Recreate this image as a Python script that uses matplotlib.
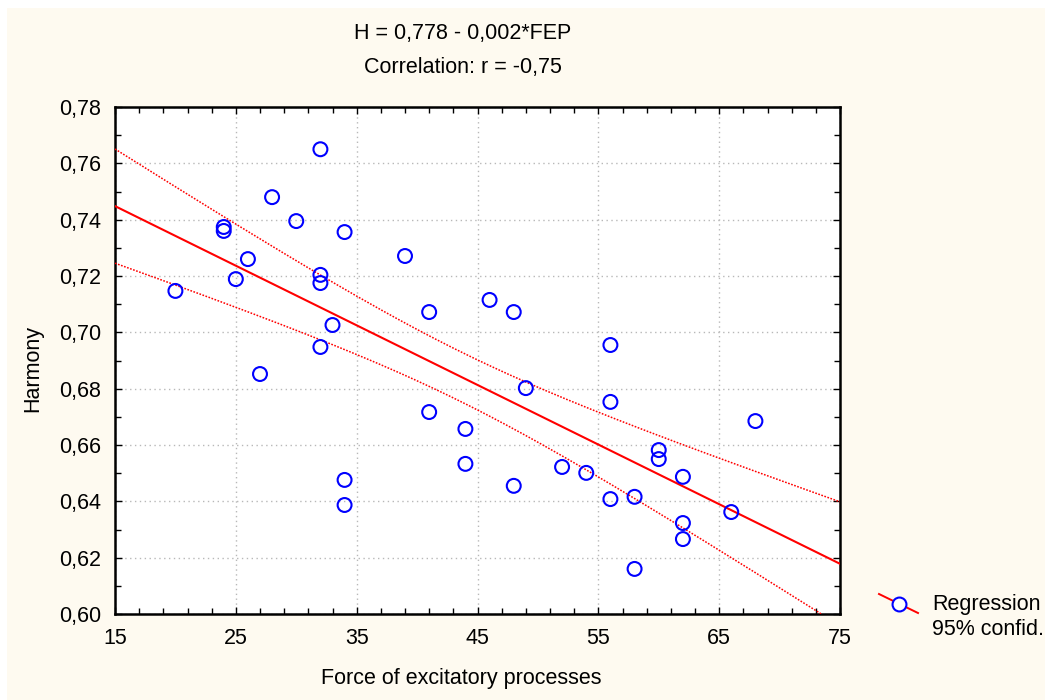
import numpy as np
import matplotlib.pyplot as plt
from matplotlib.patches import Rectangle
from matplotlib.lines import Line2D
from matplotlib.ticker import MultipleLocator, FuncFormatter

plt.rcParams['font.family'] = ['Liberation Sans', 'DejaVu Sans']

# Force of excitatory processes (FEP) vs Harmony (H)
fep = [32, 28, 30, 24, 24, 34, 39, 26, 32, 32, 25, 20, 46, 48, 41, 33, 32, 56, 27, 49,
       56, 41, 44, 68, 60, 60, 44, 52, 54, 62, 34, 48, 56, 58, 34, 66, 62, 62, 58]
harmony = [0.765, 0.748, 0.7395, 0.7374, 0.736, 0.7356, 0.7271, 0.726, 0.7204, 0.7175,
           0.7189, 0.7147, 0.7115, 0.7072, 0.7072, 0.7026, 0.6948, 0.6955, 0.6852, 0.6802,
           0.6753, 0.6717, 0.6657, 0.6685, 0.6582, 0.655, 0.6533, 0.6522, 0.6501, 0.6487,
           0.6476, 0.6455, 0.6408, 0.6416, 0.6387, 0.6362, 0.6323, 0.6266, 0.616]
equation = 'H = 0,778 - 0,002*FEP'
correlation = 'Correlation: r = -0,75'
legend_label = 'Regression\n95% confid.'

x = np.array(fep, dtype=float)
y = np.array(harmony)
n = len(x)
slope, intercept = np.polyfit(x, y, 1)

# 95% confidence band of the mean regression line
xs = np.linspace(15, 75, 200)
fit = intercept + slope * xs
resid = y - (intercept + slope * x)
s = np.sqrt(np.sum(resid ** 2) / (n - 2))
t_crit = 2.026
se = s * np.sqrt(1 / n + (xs - x.mean()) ** 2 / np.sum((x - x.mean()) ** 2))

fig = plt.figure(figsize=(10.45, 7.0), dpi=100, facecolor='white')
fig.patches.append(Rectangle((7 / 1045, 0), 1, 692 / 700, transform=fig.transFigure,
                             facecolor='#FEFAF0', edgecolor='none', zorder=-10))

ax = fig.add_axes([115 / 1045, 1 - 614 / 700, 725 / 1045, 507 / 700])
ax.set_facecolor('white')

ax.plot(xs, fit, color='#FF0000', lw=1.5, zorder=3)
ax.plot(xs, fit + t_crit * se, color='#FF0000', lw=1.1, ls=(0, (1.1, 1.0)), zorder=3)
ax.plot(xs, fit - t_crit * se, color='#FF0000', lw=1.1, ls=(0, (1.1, 1.0)), zorder=3)
ax.scatter(x, y, s=100, facecolors='none', edgecolors='#0000FF', linewidths=1.5, zorder=4)

ax.set_xlim(15, 75)
ax.set_ylim(0.60, 0.78)
ax.xaxis.set_major_locator(MultipleLocator(10, offset=5))
ax.xaxis.set_minor_locator(MultipleLocator(2, offset=1))
ax.yaxis.set_major_locator(MultipleLocator(0.02))
ax.yaxis.set_minor_locator(MultipleLocator(0.01))
ax.yaxis.set_major_formatter(FuncFormatter(lambda v, p: f'{v:.2f}'.replace('.', ',')))
ax.tick_params(which='both', direction='in', top=True, right=True, labelsize=15.5, colors='black')
ax.tick_params(which='major', length=5, width=1)
ax.tick_params(which='minor', length=4, width=1)
ax.tick_params(axis='x', pad=10)
ax.tick_params(axis='y', pad=10)
ax.grid(True, which='major', color='#B8B8B8', ls=(0, (1, 2.5)), lw=1.0)
for sp in ax.spines.values():
    sp.set_linewidth(1.8)

ax.set_xlabel('Force of excitatory processes', fontsize=15.5)
ax.set_ylabel('Harmony', fontsize=15.5)
ax.xaxis.set_label_coords(0.477, -0.106)
ax.yaxis.set_label_coords(-0.099, 0.485)

fig.text(463 / 1045, 1 - 33 / 700, equation, ha='center', va='center', fontsize=15.5)
fig.text(463 / 1045, 1 - 68 / 700, correlation, ha='center', va='center', fontsize=15.5)

# legend key: slanted red line through an open blue circle
fig.add_artist(Line2D([879 / 1045, 918 / 1045], [1 - 594 / 700, 1 - 613 / 700],
                      transform=fig.transFigure, color='#FF0000', lw=1.4))
fig.add_artist(Line2D([899 / 1045], [1 - 604 / 700], transform=fig.transFigure,
                      marker='o', markersize=10, markerfacecolor='white',
                      markeredgecolor='#0000FF', markeredgewidth=1.5, ls='none'))
fig.text(932 / 1045, 1 - 617 / 700, legend_label, ha='left', va='center',
         multialignment='left', fontsize=15.5, linespacing=1.2)

fig.savefig('out.png', dpi=100, facecolor=fig.get_facecolor())
